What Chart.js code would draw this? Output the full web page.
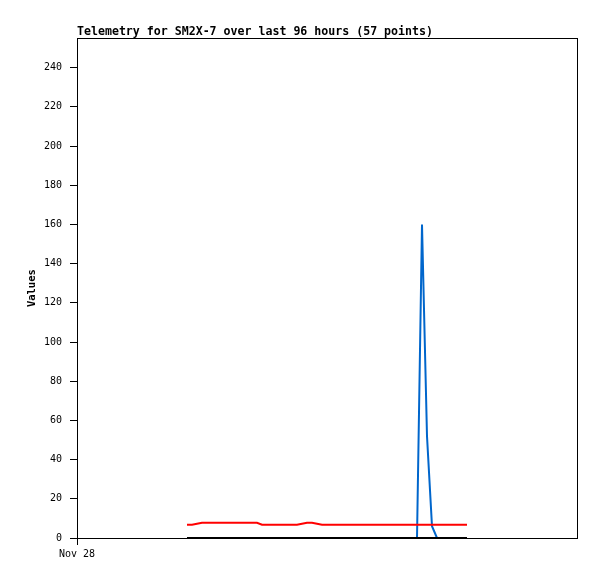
<!DOCTYPE html>
<html>
<head>
<meta charset="utf-8">
<script src="https://cdn.jsdelivr.net/npm/chart.js@4/dist/chart.umd.min.js"></script>
<style>
  html, body { margin: 0; padding: 0; background: #fff; }
  #wrap { width: 597px; height: 579px; }
</style>
</head>
<body>
<div id="wrap"><canvas id="chart" width="597" height="579"></canvas></div>
<script>
// hours since Nov 28 00:00, one per sample
const hours = [
    21.12, 22.08, 23.04, 24.00, 24.96, 25.92, 26.88, 27.84, 28.80, 29.76,
    30.72, 31.68, 32.64, 33.60, 34.56, 35.52, 36.48, 37.44, 38.40, 39.36,
    40.32, 41.28, 42.24, 43.20, 44.16, 45.12, 46.08, 47.04, 48.00, 48.96,
    49.92, 50.88, 51.84, 52.80, 53.76, 54.72, 55.68, 56.64, 57.60, 58.56,
    59.52, 60.48, 61.44, 62.40, 63.36, 64.32, 65.28, 66.24, 67.20, 68.16,
    69.12, 70.08, 71.04, 72.00, 72.96, 73.92, 74.88
];

const redValues = [
    6.8, 6.8, 7.3, 7.8, 7.8, 7.8, 7.8, 7.8, 7.8, 7.8,
    7.8, 7.8, 7.8, 7.8, 7.8, 6.8, 6.8, 6.8, 6.8, 6.8,
    6.8, 6.8, 6.8, 7.3, 7.8, 7.8, 7.3, 6.8, 6.8, 6.8,
    6.8, 6.8, 6.8, 6.8, 6.8, 6.8, 6.8, 6.8, 6.8, 6.8,
    6.8, 6.8, 6.8, 6.8, 6.8, 6.8, 6.8, 6.8, 6.8, 6.8,
    6.8, 6.8, 6.8, 6.8, 6.8, 6.8, 6.8
];

const blueValues = [
    0, 0, 0, 0, 0, 0, 0, 0, 0, 0,
    0, 0, 0, 0, 0, 0, 0, 0, 0, 0,
    0, 0, 0, 0, 0, 0, 0, 0, 0, 0,
    0, 0, 0, 0, 0, 0, 0, 0, 0, 0,
    0, 0, 0, 0, 0, 0, 0, 160, 52, 6,
    0, 0, 0, 0, 0, 0, 0
];

const blackValues = [
    0, 0, 0, 0, 0, 0, 0, 0, 0, 0,
    0, 0, 0, 0, 0, 0, 0, 0, 0, 0,
    0, 0, 0, 0, 0, 0, 0, 0, 0, 0,
    0, 0, 0, 0, 0, 0, 0, 0, 0, 0,
    0, 0, 0, 0, 0, 0, 0, 0, 0, 0,
    0, 0, 0, 0, 0, 0, 0
];

const xTickValues = [0];
const xTickLabels = ["Nov 28"];

const titleText = "Telemetry for SM2X-7 over last 96 hours (57 points)";
const mono = "'DejaVu Sans Mono', 'Liberation Mono', monospace";

function toPoints(vals) {
    return vals.map((v, i) => ({ x: hours[i], y: v }));
}

// box around the plot area
const frame = {
    id: "frame",
    afterDraw(c) {
        const a = c.chartArea;
        const ctx = c.ctx;
        ctx.save();
        ctx.strokeStyle = "#000";
        ctx.lineWidth = 1;
        ctx.strokeRect(Math.round(a.left) + 0.5, Math.round(a.top) + 0.5,
            Math.round(a.right - a.left), Math.round(a.bottom - a.top));
        ctx.restore();
    }
};

function line(label, vals, color) {
    return {
        label: label,
        data: toPoints(vals),
        borderColor: color,
        backgroundColor: color,
        borderWidth: 2,
        pointRadius: 0,
        tension: 0,
        fill: false
    };
}

const chart = new Chart(document.getElementById("chart"), {
    type: "line",
    data: {
        datasets: [
            line("black", blackValues, "#000000"),
            line("red", redValues, "#ff0000"),
            line("blue", blueValues, "#0066cc")
        ]
    },
    options: {
        responsive: false,
        animation: false,
        layout: { padding: { left: 20, right: 20, top: 0, bottom: 20 } },
        plugins: {
            legend: { display: false },
            tooltip: { enabled: false },
            title: {
                display: true,
                text: titleText,
                align: "start",
                fullSize: false,
                color: "#000",
                font: { family: mono, size: 11.6, weight: "bold", lineHeight: 1.1 },
                padding: { top: 25.5, bottom: 0 }
            }
        },
        scales: {
            x: {
                type: "linear",
                min: 0,
                max: 96,
                afterFit(s) { s.height = 21; },
                afterBuildTicks(s) { s.ticks = xTickValues.map(v => ({ value: v })); },
                ticks: {
                    autoSkip: false,
                    maxRotation: 0,
                    padding: 3,
                    color: "#000",
                    font: { family: mono, size: 10 },
                    callback: (v) => xTickLabels[xTickValues.indexOf(v)]
                },
                grid: { drawOnChartArea: false, tickLength: 7, color: "#000" },
                border: { color: "#000", width: 1 }
            },
            y: {
                min: 0,
                max: 255,
                afterFit(s) { s.width = 57; },
                ticks: {
                    stepSize: 20,
                    includeBounds: false,
                    padding: 8,
                    color: "#000",
                    font: { family: mono, size: 10 }
                },
                grid: { drawOnChartArea: false, tickLength: 7, color: "#000" },
                border: { color: "#000", width: 1 },
                title: {
                    display: true,
                    text: "Values",
                    color: "#000",
                    font: { family: mono, size: 10.5, weight: "bold" },
                    padding: { top: 6, bottom: 0 }
                }
            }
        }
    },
    plugins: [frame]
});
</script>
</body>
</html>
